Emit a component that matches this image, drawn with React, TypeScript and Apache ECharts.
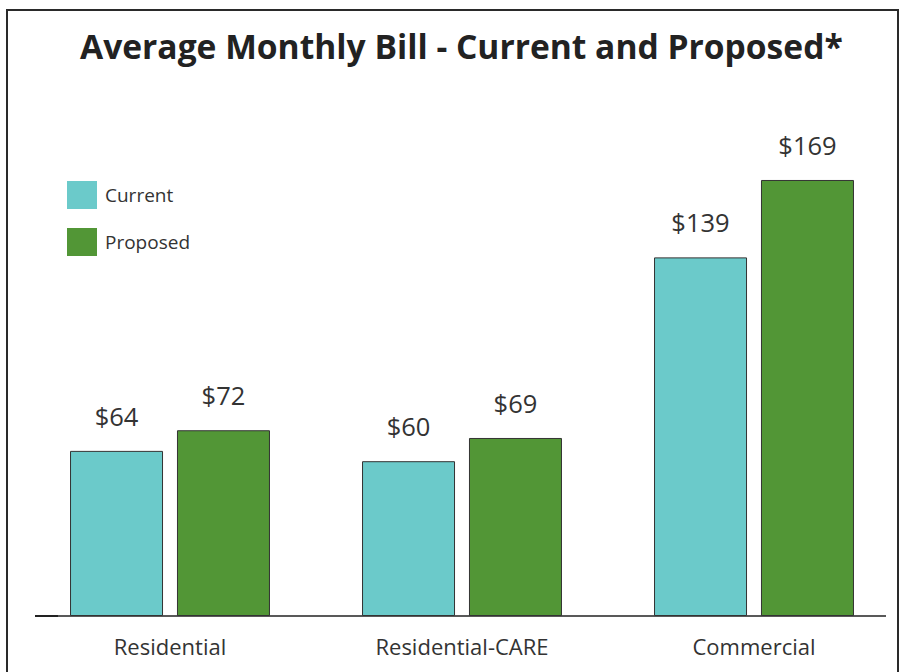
import React, { useEffect, useRef } from "react";
import * as echarts from "echarts";

const categories = ["Residential", "Residential-CARE", "Commercial"];
const currentValues = [64, 60, 139];
const proposedValues = [72, 69, 169];
const seriesNames = ["Current", "Proposed"];
const titleText = "Average Monthly Bill - Current and Proposed*";

export default function App() {
  const ref = useRef<HTMLDivElement>(null);
  useEffect(() => {
    if (!ref.current) return;
    const chart = echarts.init(ref.current, null, { renderer: "svg" });
    const font = "'Open Sans', 'Noto Sans', sans-serif";
    const label = {
      show: true,
      position: "top",
      distance: 22,
      formatter: "${c}",
      fontSize: 25.5,
      color: "#333",
      fontFamily: font,
    };
    chart.setOption({
      animation: false,
      backgroundColor: "#fff",
      title: {
        text: titleText,
        left: 80,
        top: 29,
        padding: 0,
        textStyle: { fontSize: 33.6, fontWeight: "bold", color: "#222", fontFamily: font },
      },
      legend: {
        orient: "vertical",
        left: 67,
        top: 181,
        padding: 0,
        itemWidth: 30,
        itemHeight: 28,
        itemGap: 19,
        icon: "rect",
        data: seriesNames,
        itemStyle: { borderWidth: 0 },
        textStyle: { fontSize: 19, color: "#333", fontFamily: font, padding: [0, 0, 0, 3] },
      },
      grid: { left: 24, right: 3, top: 100, bottom: 56 },
      xAxis: {
        type: "category",
        data: categories,
        axisLine: { show: false },
        axisTick: { show: false },
        axisLabel: { fontSize: 22, color: "#333", margin: 19, fontFamily: font },
      },
      yAxis: { type: "value", min: 0, max: 200, show: false, splitLine: { show: false } },
      graphic: [
        { type: "rect", shape: { x: 7, y: 10, width: 891, height: 700 }, style: { fill: "none", stroke: "#2a2a2a", lineWidth: 2 }, silent: true },
        { type: "line", shape: { x1: 35, y1: 616, x2: 886, y2: 616 }, style: { stroke: "#222", lineWidth: 1.5 }, silent: true },
        { type: "line", shape: { x1: 35, y1: 616, x2: 58, y2: 616 }, style: { stroke: "#222", lineWidth: 2 }, silent: true },
      ],
      series: [
        {
          name: seriesNames[0],
          type: "bar",
          data: currentValues,
          barWidth: 93,
          barGap: "15%",
          itemStyle: { color: "#6BCACA", borderColor: "#333", borderWidth: 1 },
          label,
        },
        {
          name: seriesNames[1],
          type: "bar",
          data: proposedValues,
          barWidth: 93,
          barGap: "15%",
          itemStyle: { color: "#529636", borderColor: "#333", borderWidth: 1 },
          label,
        },
      ],
    });
    return () => chart.dispose();
  }, []);
  return <div ref={ref} style={{ position: "fixed", left: 0, top: 0, width: 903, height: 672 }} />;
}
